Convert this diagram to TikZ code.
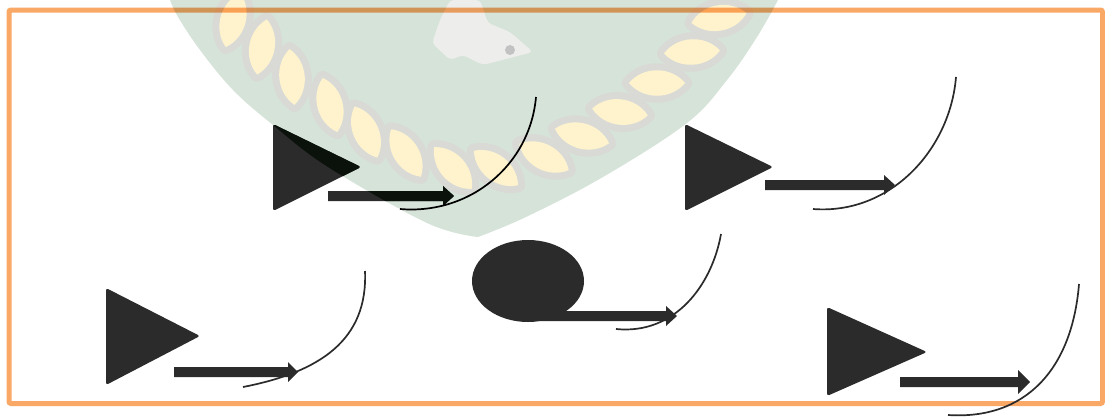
\documentclass[tikz,border=0pt]{standalone}
\usetikzlibrary{shapes.geometric}
\definecolor{shield}{HTML}{D6E3D9}
\definecolor{band}{HTML}{D9DAD5}
\definecolor{leafc}{HTML}{FFF3CE}
\definecolor{eagle}{HTML}{EDEDEC}
\definecolor{ink}{HTML}{2B2B2B}
\definecolor{deepink}{HTML}{0B110B}
\definecolor{framec}{HTML}{F9A866}
\tikzset{
  tri/.style={fill=ink,rounded corners=2.5pt},
  blob/.style={fill=ink,draw=none,ellipse},
  curve/.style={draw=ink,line width=1.7pt},
  bigarrow/.style={fill=ink,draw=none},
  leafband/.style={draw=band,line width=14pt,line join=round},
  leaffill/.style={fill=leafc}
}
\newcommand{\shieldpath}{plot[smooth,tension=0.6] coordinates {(170,0) (178,17) (200,50) (233,90) (273,125) (328,167) (427,223) (478,237)} -- plot[smooth,tension=0.6] coordinates {(478,237) (526,217) (603,177) (687,123) (727,80) (757,37) (778,0)} -- cycle}
\newcommand{\leafpath}[4][]{\path[#1,shift={(#2,#3)},rotate=#4] (-28pt,0pt) .. controls (-14pt,17pt) and (14pt,17pt) .. (28pt,0pt) .. controls (14pt,-17pt) and (-14pt,-17pt) .. (-28pt,0pt) -- cycle;}
% tail x, y, head base x, tip x, half shaft, half head
\newcommand{\arrowpath}[6]{(#1,#2-#5) -- (#3,#2-#5) -- (#3,#2-#6) -- (#4,#2) -- (#3,#2+#6) -- (#3,#2+#5) -- (#1,#2+#5) -- cycle}
\begin{document}
\begin{tikzpicture}[x=1pt,y=-1pt]
\useasboundingbox (0,0) rectangle (1105,416);
\clip (0,0) rectangle (1105,416);
% watermark
\fill[shield] \shieldpath;
\def\leaflist{233/20/75,262/47/80,292/77/-85,330/105/-75,366/132/-66,406/153/-58,453/168/-48,496/168/-38,544/157/-28,582/136/-15,620/112/-7,657/83/0,692/52/3,719/18/10}
\foreach \x/\y/\a in \leaflist {\leafpath[leafband]{\x}{\y}{\a}}
\foreach \x/\y/\a in \leaflist {\leafpath[leaffill]{\x}{\y}{\a}}
\fill[eagle,rounded corners=4pt] (450,0) -- (440,20) -- (432,43) -- (450,60) -- (463,55) -- (483,65) -- (533,52) -- (510,32) -- (488,23) -- (480,0) -- cycle;
\fill[black!18!eagle] (510,50) circle (5);
% frame
\begin{scope}[blend mode=multiply]
\draw[framec,line width=5pt,rounded corners=2pt] (9,10) rectangle (1102.5,403.5);
\end{scope}
% figures
\path[tri] (273,124) -- (361,167) -- (273,211) -- cycle;
\path[bigarrow] \arrowpath{328}{196}{443}{454}{5}{10};
\begin{scope}
\clip \shieldpath;
\fill[deepink,rounded corners=2.5pt] (273,124) -- (361,167) -- (273,211) -- cycle;
\fill[deepink] \arrowpath{328}{196}{443}{454}{5}{10};
\end{scope}
\path[curve,draw=black] (536,97) .. controls (530,165) and (470,215) .. (400,209);
\path[tri] (685,124) -- (773,167) -- (685,211) -- cycle;
\path[bigarrow] \arrowpath{765}{185}{884}{895}{5}{10};
\path[curve] (956,77) .. controls (950,150) and (890,215) .. (813,209);
\node[blob,minimum width=112pt,minimum height=82pt,inner sep=0pt] (disc) at (528,281) {};
\path[bigarrow] \arrowpath{540}{316}{666}{677}{5}{10};
\path[curve] (721,234) .. controls (712,285) and (675,335) .. (616,329);
\path[tri] (106,288) -- (200,336) -- (106,385) -- cycle;
\path[bigarrow] \arrowpath{174}{372}{288}{298}{5}{10};
\path[curve] (365,271) .. controls (368,340) and (320,372) .. (243,387);
\path[tri] (827,307) -- (927,352) -- (827,396) -- cycle;
\path[bigarrow] \arrowpath{900}{382}{1018}{1030}{5}{12};
\path[curve] (1079,284) .. controls (1072,370) and (1025,420) .. (948,415);
\end{tikzpicture}
\end{document}
